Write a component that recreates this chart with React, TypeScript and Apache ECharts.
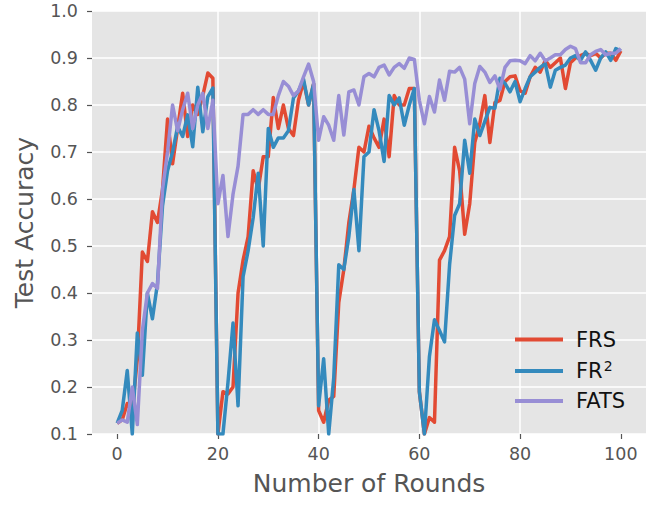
import React, { useEffect, useRef } from "react";
import * as echarts from "echarts";

const seriesNames = ["FRS", "FR²", "FATS"];
const seriesColors = ["#E24A33", "#348ABD", "#988ED5"];
const xTicks = [0, 20, 40, 60, 80, 100];

const frs = [
  0.123, 0.13, 0.165, 0.15, 0.26, 0.487, 0.467, 0.573, 0.55, 0.62,
  0.77, 0.675, 0.75, 0.825, 0.733, 0.8, 0.78, 0.82, 0.868, 0.857,
  0.1, 0.19, 0.185, 0.2, 0.4, 0.47, 0.52, 0.66, 0.62, 0.69,
  0.69, 0.816, 0.75, 0.8, 0.75, 0.735, 0.81, 0.85, 0.8, 0.845,
  0.15, 0.125, 0.172, 0.18, 0.38, 0.45, 0.55, 0.62, 0.71, 0.7,
  0.755, 0.73, 0.71, 0.77, 0.69, 0.82, 0.8, 0.8, 0.835, 0.835,
  0.19, 0.1, 0.135, 0.125, 0.47, 0.49, 0.52, 0.71, 0.66, 0.525,
  0.59, 0.72, 0.76, 0.82, 0.72, 0.805, 0.81, 0.85, 0.86, 0.862,
  0.83, 0.825, 0.86, 0.88, 0.87, 0.895, 0.88, 0.89, 0.9, 0.835,
  0.89, 0.9, 0.905, 0.91, 0.905, 0.91, 0.9, 0.91, 0.91, 0.895,
  0.915,
];

const fr2 = [
  0.123, 0.15, 0.235, 0.1, 0.315, 0.225, 0.4, 0.345, 0.42, 0.585,
  0.66, 0.7, 0.754, 0.733, 0.779, 0.711, 0.838, 0.743, 0.818, 0.836,
  0.1, 0.1, 0.21, 0.336, 0.16, 0.435, 0.49, 0.56, 0.655, 0.5,
  0.75, 0.71, 0.73, 0.73, 0.745, 0.815, 0.83, 0.855, 0.8, 0.845,
  0.16, 0.26, 0.1, 0.22, 0.46, 0.45, 0.52, 0.62, 0.49, 0.69,
  0.7, 0.79, 0.745, 0.68, 0.82, 0.8, 0.815, 0.757, 0.8, 0.835,
  0.19, 0.1, 0.265, 0.343, 0.32, 0.296, 0.46, 0.565, 0.59, 0.725,
  0.655, 0.77, 0.735, 0.765, 0.795, 0.793, 0.857, 0.846, 0.828, 0.85,
  0.807, 0.835, 0.86, 0.87, 0.88, 0.888, 0.838, 0.874, 0.88, 0.885,
  0.9, 0.905, 0.895, 0.913, 0.895, 0.874, 0.9, 0.913, 0.895, 0.92,
  0.915,
];

const fats = [
  0.123, 0.13, 0.125, 0.2, 0.12, 0.32, 0.4, 0.42, 0.41, 0.62,
  0.7, 0.8, 0.745, 0.79, 0.825, 0.75, 0.8, 0.825, 0.75, 0.81,
  0.59, 0.65, 0.52, 0.61, 0.67, 0.78, 0.78, 0.79, 0.78, 0.79,
  0.78, 0.78, 0.82, 0.85, 0.84, 0.82, 0.83, 0.86, 0.887, 0.85,
  0.725, 0.775, 0.757, 0.725, 0.82, 0.736, 0.828, 0.832, 0.8, 0.86,
  0.867, 0.86, 0.88, 0.885, 0.864, 0.88, 0.888, 0.878, 0.9, 0.897,
  0.81, 0.76, 0.818, 0.785, 0.853, 0.81, 0.872, 0.87, 0.88, 0.855,
  0.76, 0.846, 0.882, 0.87, 0.848, 0.862, 0.833, 0.88, 0.894, 0.895,
  0.894, 0.888, 0.905, 0.894, 0.91, 0.894, 0.9, 0.907, 0.907, 0.918,
  0.925, 0.92, 0.89, 0.89, 0.907, 0.914, 0.918, 0.907, 0.91, 0.91,
  0.92,
];

const allValues = [frs, fr2, fats];

export default function App() {
  const ref = useRef<HTMLDivElement>(null);

  useEffect(() => {
    if (!ref.current) return;
    const chart = echarts.init(ref.current, null, { renderer: "svg" });
    const font = "DejaVu Sans";

    const series = seriesNames.map((name, si) => ({
      name,
      type: "line",
      data: allValues[si].map((v, i) => [i, v]),
      showSymbol: false,
      symbol: "none",
      lineStyle: { color: seriesColors[si], width: 3.5, join: "round" },
      itemStyle: { color: seriesColors[si] },
      z: 2 + si,
    }));

    chart.setOption({
      animation: false,
      backgroundColor: "#ffffff",
      textStyle: { fontFamily: font },
      grid: {
        left: 92,
        right: 15,
        top: 11,
        bottom: 72,
        show: true,
        backgroundColor: "#E5E5E5",
        borderWidth: 0,
        containLabel: false,
      },
      legend: {
        data: seriesNames,
        orient: "vertical",
        left: 510,
        top: 324,
        icon: "rect",
        itemWidth: 48,
        itemHeight: 4,
        itemGap: 9,
        formatter: (name: string) =>
          name === "FR²" ? "{base|FR}{sup|2}" : "{base|" + name + "}",
        textStyle: {
          fontFamily: font,
          fontSize: 21,
          color: "#111",
          padding: [0, 0, 0, 8],
          rich: {
            base: { fontFamily: font, fontSize: 21, color: "#111", lineHeight: 24 },
            sup: {
              fontFamily: font,
              fontSize: 14,
              color: "#111",
              lineHeight: 14,
              verticalAlign: "top",
              padding: [0, 0, 0, 1],
            },
          },
        },
      },
      xAxis: {
        type: "value",
        min: -5,
        max: 105,
        splitNumber: 5,
        name: "Number of Rounds",
        nameLocation: "middle",
        nameGap: 37,
        nameTextStyle: { fontFamily: font, fontSize: 25, color: "#555" },
        axisLine: { show: false, onZero: false },
        axisTick: {
          show: true,
          length: 5,
          customValues: xTicks,
          lineStyle: { color: "#555", width: 1.2 },
        },
        axisLabel: {
          customValues: xTicks,
          color: "#555",
          fontSize: 17.5,
          fontFamily: font,
          margin: 11,
        },
        splitLine: {
          show: true,
          showMinLine: false,
          showMaxLine: false,
          lineStyle: { color: "#ffffff", width: 1.5 },
        },
      },
      yAxis: {
        type: "value",
        min: 0.1,
        max: 1.0,
        interval: 0.1,
        name: "Test Accuracy",
        nameLocation: "middle",
        nameGap: 55,
        nameTextStyle: { fontFamily: font, fontSize: 25, color: "#555" },
        axisLine: { show: false, onZero: false },
        axisTick: { show: true, length: 5, lineStyle: { color: "#555", width: 1.2 } },
        axisLabel: {
          color: "#555",
          fontSize: 17.5,
          fontFamily: font,
          margin: 14,
          formatter: (v: number) => v.toFixed(1),
        },
        splitLine: { show: true, lineStyle: { color: "#ffffff", width: 1.5 } },
      },
      series,
    });

    return () => chart.dispose();
  }, []);

  return (
    <div
      ref={ref}
      style={{ position: "fixed", left: 0, top: 0, width: 661, height: 506 }}
    />
  );
}
